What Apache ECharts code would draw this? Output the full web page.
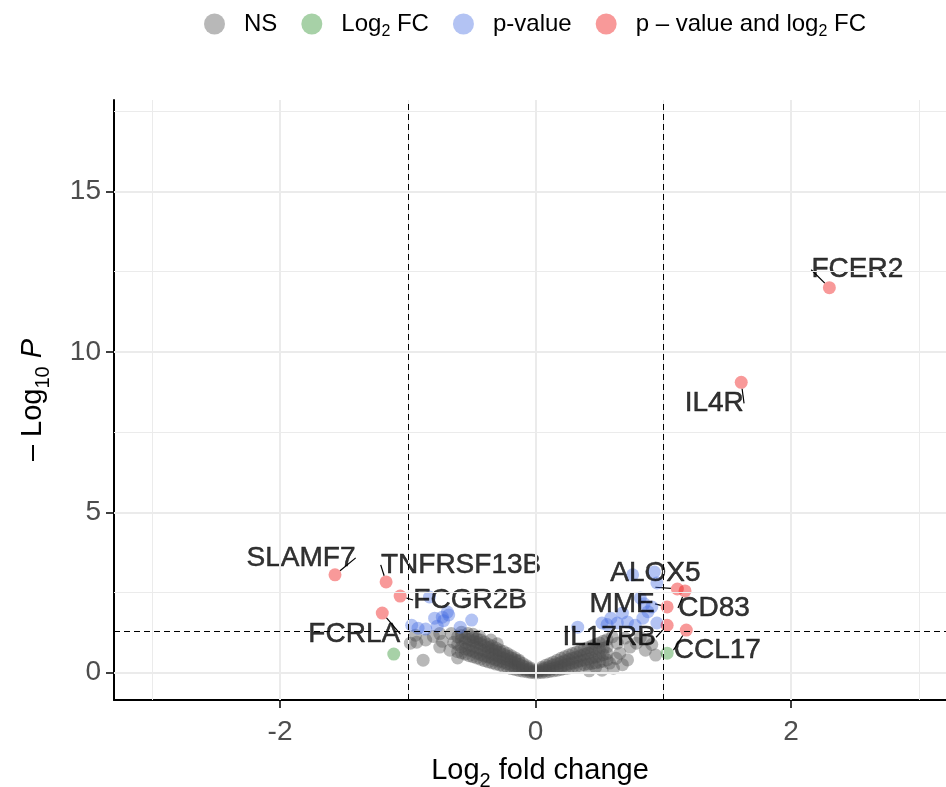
<!DOCTYPE html>
<html>
<head>
<meta charset="utf-8">
<script src="https://cdn.jsdelivr.net/npm/echarts@6/dist/echarts.min.js"></script>
<style>
  html, body { margin: 0; padding: 0; background: #fff; }
  #chart { width: 946px; height: 787px; }
</style>
</head>
<body>
<div id="chart"></div>
<script>
// Volcano plot: log2 fold change vs -log10 p-value, coloured by significance class.

// Not significant (grey)
const nsPoints = [
  [-0.61,0.66],[-0.61,0.88],[-0.61,1.12],
  [-0.58,0.62],[-0.58,0.81],[-0.58,1.02],[-0.58,1.16],
  [-0.55,0.58],[-0.55,0.74],[-0.55,0.95],[-0.55,1.08],
  [-0.52,0.53],[-0.52,0.70],[-0.52,0.86],[-0.52,1.04],
  [-0.49,0.50],[-0.49,0.67],[-0.49,0.83],[-0.49,0.99],[-0.49,1.10],
  [-0.46,0.46],[-0.46,0.61],[-0.46,0.79],[-0.46,0.95],[-0.46,1.06],
  [-0.43,0.42],[-0.43,0.57],[-0.43,0.73],[-0.43,0.90],[-0.43,1.02],
  [-0.40,0.38],[-0.40,0.52],[-0.40,0.69],[-0.40,0.84],[-0.40,0.96],
  [-0.37,0.34],[-0.37,0.49],[-0.37,0.63],[-0.37,0.79],[-0.37,0.88],
  [-0.34,0.31],[-0.34,0.45],[-0.34,0.58],[-0.34,0.72],[-0.34,0.83],
  [-0.31,0.27],[-0.31,0.40],[-0.31,0.55],[-0.31,0.68],[-0.31,0.77],
  [-0.28,0.24],[-0.28,0.36],[-0.28,0.50],[-0.28,0.63],[-0.28,0.71],
  [-0.25,0.20],[-0.25,0.33],[-0.25,0.45],[-0.25,0.57],[-0.25,0.66],
  [-0.22,0.17],[-0.22,0.28],[-0.22,0.41],[-0.22,0.52],[-0.22,0.60],
  [-0.19,0.13],[-0.19,0.24],[-0.19,0.36],[-0.19,0.46],[-0.19,0.53],
  [-0.16,0.10],[-0.16,0.20],[-0.16,0.31],[-0.16,0.40],[-0.16,0.46],
  [-0.13,0.07],[-0.13,0.16],[-0.13,0.26],[-0.13,0.35],[-0.13,0.39],
  [-0.10,0.05],[-0.10,0.12],[-0.10,0.21],[-0.10,0.29],
  [-0.07,0.03],[-0.07,0.09],[-0.07,0.16],[-0.07,0.22],
  [-0.04,0.01],[-0.04,0.05],[-0.04,0.11],[-0.04,0.15],
  [-0.01,0.00],[-0.01,0.03],[-0.01,0.07],
  [0.02,0.00],[0.02,0.04],[0.02,0.08],
  [0.05,0.01],[0.05,0.06],[0.05,0.12],[0.05,0.17],
  [0.08,0.02],[0.08,0.08],[0.08,0.15],[0.08,0.23],
  [0.11,0.04],[0.11,0.11],[0.11,0.19],[0.11,0.28],
  [0.14,0.06],[0.14,0.14],[0.14,0.24],[0.14,0.33],
  [0.17,0.08],[0.17,0.17],[0.17,0.28],[0.17,0.39],
  [0.20,0.10],[0.20,0.20],[0.20,0.32],[0.20,0.45],
  [0.23,0.13],[0.23,0.24],[0.23,0.37],[0.23,0.50],
  [0.26,0.15],[0.26,0.27],[0.26,0.41],[0.26,0.55],
  [0.29,0.17],[0.29,0.30],[0.29,0.45],[0.29,0.60],
  [0.32,0.20],[0.32,0.33],[0.32,0.49],[0.32,0.64],
  [0.35,0.22],[0.35,0.37],[0.35,0.53],[0.35,0.69],
  [0.38,0.25],[0.38,0.40],[0.38,0.57],[0.38,0.74],
  [0.41,0.27],[0.41,0.43],[0.41,0.61],[0.41,0.78],
  [0.44,0.29],[0.44,0.46],[0.44,0.65],[0.44,0.83],
  [0.47,0.31],[0.47,0.49],[0.47,0.69],[0.47,0.88],
  [0.50,0.33],[0.50,0.52],[0.50,0.72],[0.50,0.93],
  [0.53,0.36],[0.53,0.56],[0.53,0.76],[0.53,0.98],
  [0.56,0.40],[0.56,0.60],[0.56,0.81],[0.56,1.03],
  [-0.98,0.92],[-0.94,1.17],[-0.93,0.95],[-0.88,0.39],[-0.86,1.02],
  [-0.80,1.13],[-0.75,0.80],[-0.75,1.22],[-0.73,0.98],[-0.67,0.70],
  [-0.66,1.22],[-0.64,0.95],[-0.61,0.46],[-0.58,1.26],[-0.53,1.22],
  [-0.49,1.20],[-0.44,1.14],[-0.35,1.02],[-0.30,0.90],
  [0.42,0.06],[0.47,0.17],[0.52,0.08],[0.58,0.30],[0.61,0.14],
  [0.64,0.92],[0.66,0.61],[0.70,1.08],[0.74,0.80],[0.79,0.92],
  [0.82,1.10],[0.86,0.70],[0.94,0.55],[0.60,1.12],[0.63,0.45],
  [0.68,0.25],[0.72,0.40],[0.88,1.05],[0.91,0.88]
];

// Passes the fold-change cut only (green)
const fcPoints = [[-1.11,0.58],[1.03,0.61]];

// Passes the p-value cut only (blue)
const pPoints = [
  [-0.83,2.36],[-0.69,1.89],[-0.73,1.73],[-0.79,1.70],[-0.68,1.80],[-0.50,1.64],
  [-0.59,1.42],[-0.97,1.48],[-0.92,1.39],[-0.86,1.36],[-0.77,1.45],[-0.72,1.62],
  [0.76,3.05],[0.93,3.14],[0.95,2.80],[0.82,2.33],[0.91,2.05],[0.68,1.86],
  [0.59,1.70],[0.52,1.55],[0.72,1.58],[0.84,1.70],[0.33,1.42],[0.78,1.48],
  [0.95,1.55],[0.64,1.55],[0.88,1.90],[0.85,2.15],[0.56,1.50]
];

// Passes both cuts (red), labelled with gene symbols
const sigGenes   = ['FCER2','IL4R','SLAMF7','TNFRSF13B','FCGR2B','FCRLA','ALOX5','CD83','MME','IL17RB','CCL17'];
const sigLog2FC  = [2.30, 1.61, -1.57, -1.17, -1.06, -1.20, 1.11, 1.17, 1.03, 1.03, 1.18];
const sigNegLogP = [12.0, 9.05, 3.05, 2.83, 2.39, 1.86, 2.61, 2.55, 2.05, 1.48, 1.33];

// Axis ticks and cut-offs
const xTicks = [-2, 0, 2];
const yTicks = [0, 5, 10, 15];
const xGridMajor = [-2, 0, 2];
const xGridMinor = [-3, -1, 1, 3];
const yGridMajor = [0, 5, 10, 15];
const yGridMinor = [2.5, 7.5, 12.5, 17.5];
const fcCutoff = [-1, 1];
const pCutoff = 1.30103;

// Label placement relative to each point (pixels)
const labelShift = {
  FCER2: [28, -18], IL4R: [-27, 21], SLAMF7: [-34, -17], TNFRSF13B: [75, -17],
  FCGR2B: [70, 4], FCRLA: [-28, 21], ALOX5: [-22, -16], CD83: [29, 17],
  MME: [-45, -3], IL17RB: [-58, 12], CCL17: [31, 20]
};

const FONT = "'Liberation Sans', Arial, Helvetica, sans-serif";
const COLORS = {
  ns: 'rgba(77,77,77,0.5)',
  fc: 'rgba(34,139,34,0.5)',
  p: 'rgba(65,105,225,0.5)',
  both: 'rgba(238,0,0,0.5)'
};
const SYM = 13;

const legendNames = ['NS', 'Log2 FC', 'p-value', 'p - value and log2 FC'];
const legendRich = {
  'NS': 'NS',
  'Log2 FC': 'Log{s|2} FC',
  'p-value': 'p-value',
  'p - value and log2 FC': 'p – value and log{s|2} FC'
};

const gridLines = [];
xGridMajor.forEach(v => gridLines.push({ xAxis: v, lineStyle: { color: '#EBEBEB', width: 2, type: 'solid' } }));
xGridMinor.forEach(v => gridLines.push({ xAxis: v, lineStyle: { color: '#EBEBEB', width: 1, type: 'solid' } }));
yGridMajor.forEach(v => gridLines.push({ yAxis: v, lineStyle: { color: '#EBEBEB', width: 2, type: 'solid' } }));
yGridMinor.forEach(v => gridLines.push({ yAxis: v, lineStyle: { color: '#EBEBEB', width: 1, type: 'solid' } }));

const cutLines = fcCutoff.map(v => ({ xAxis: v })).concat([{ yAxis: pCutoff }]);

const sigData = sigGenes.map((g, i) => ({ name: g, value: [sigLog2FC[i], sigNegLogP[i]] }));

const chart = echarts.init(document.getElementById('chart'), null, { renderer: 'canvas' });

chart.setOption({
  animation: false,
  backgroundColor: '#fff',
  textStyle: { fontFamily: FONT },
  grid: { left: 114, top: 100, right: 0, bottom: 87, containLabel: false, outerBoundsMode: 'none' },
  legend: {
    data: legendNames,
    top: 7, left: 199,
    icon: 'circle',
    itemWidth: 21, itemHeight: 21,
    itemGap: 24,
    formatter: n => legendRich[n],
    textStyle: {
      fontFamily: FONT, fontSize: 24, color: '#000', padding: [0, 0, 0, 14],
      rich: { s: { fontFamily: FONT, fontSize: 16, verticalAlign: 'bottom', padding: [0, 0, -4, 0] } }
    }
  },
  xAxis: {
    type: 'value', min: -3.3, max: 3.213,
    axisLine: { show: true, onZero: false, lineStyle: { color: '#000', width: 2 } },
    axisTick: { show: true, customValues: xTicks, length: 8, lineStyle: { color: '#000', width: 1.5 } },
    axisLabel: { customValues: xTicks, color: '#4D4D4D', fontSize: 28, margin: 18, fontFamily: FONT },
    splitLine: { show: false },
    name: 'Log{s|2} fold change',
    nameLocation: 'middle', nameGap: 56,
    nameTextStyle: {
      fontFamily: FONT, fontSize: 29, color: '#000', padding: [0, 0, 0, 20],
      rich: { s: { fontFamily: FONT, fontSize: 20, verticalAlign: 'bottom', padding: [0, 0, -6, 0] } }
    }
  },
  yAxis: {
    type: 'value', min: -0.85, max: 17.85,
    axisLine: { show: true, onZero: false, lineStyle: { color: '#000', width: 2 } },
    axisTick: { show: true, customValues: yTicks, length: 8, lineStyle: { color: '#000', width: 1.5 } },
    axisLabel: { customValues: yTicks, color: '#4D4D4D', fontSize: 28, margin: 13, fontFamily: FONT },
    splitLine: { show: false },
    name: '– Log{s|10} {i|P}',
    nameLocation: 'middle', nameRotate: 90, nameGap: 67,
    nameTextStyle: {
      fontFamily: FONT, fontSize: 29, color: '#000',
      rich: {
        s: { fontFamily: FONT, fontSize: 20, verticalAlign: 'bottom', padding: [0, 0, -6, 0] },
        i: { fontFamily: FONT, fontSize: 29, fontStyle: 'italic' }
      }
    }
  },
  series: [
    {
      name: 'grid', type: 'scatter', data: [], silent: true, z: 0,
      markLine: { symbol: 'none', silent: true, animation: false, label: { show: false }, data: gridLines }
    },
    {
      name: 'NS', type: 'scatter', data: nsPoints, symbolSize: SYM, z: 2,
      itemStyle: { color: COLORS.ns }, emphasis: { disabled: true }
    },
    {
      name: 'Log2 FC', type: 'scatter', data: fcPoints, symbolSize: SYM, z: 2,
      itemStyle: { color: COLORS.fc }, emphasis: { disabled: true }
    },
    {
      name: 'p-value', type: 'scatter', data: pPoints, symbolSize: SYM, z: 2,
      itemStyle: { color: COLORS.p }, emphasis: { disabled: true }
    },
    {
      name: 'p - value and log2 FC', type: 'scatter', data: sigData, symbolSize: SYM, z: 2,
      itemStyle: { color: COLORS.both }, emphasis: { disabled: true },
      label: {
        show: true, position: 'inside', formatter: '{b}',
        fontFamily: FONT, fontSize: 28, color: '#000',
        textBorderColor: '#000', textBorderWidth: 0.5
      },
      labelLine: { show: true, lineStyle: { color: '#000', width: 1.2 } },
      labelLayout: p => {
        const s = labelShift[sigGenes[p.dataIndex]];
        return { dx: s[0], dy: s[1] };
      }
    },
    {
      name: 'cutoffs', type: 'scatter', data: [], silent: true, z: 3,
      markLine: {
        symbol: 'none', silent: true, animation: false, label: { show: false },
        lineStyle: { color: '#000', width: 1, type: [6, 4] },
        data: cutLines
      }
    }
  ]
});
</script>
</body>
</html>
